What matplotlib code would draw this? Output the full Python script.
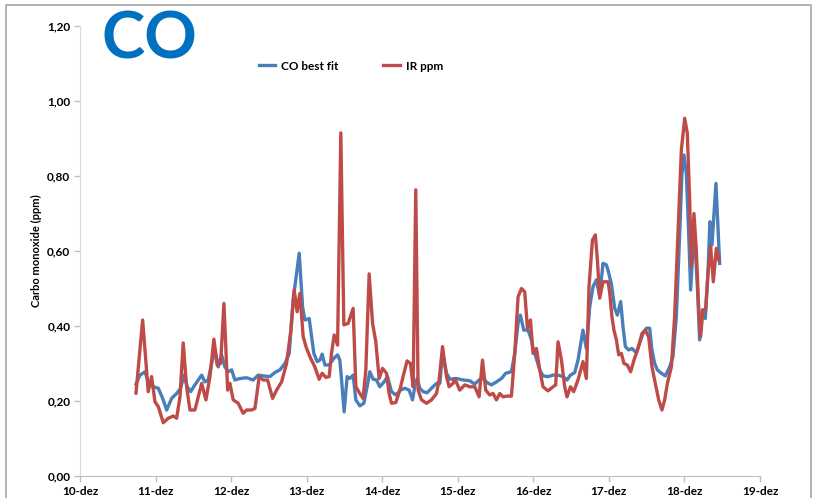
import numpy as np
import matplotlib
matplotlib.use("Agg")
import matplotlib.pyplot as plt
from matplotlib.lines import Line2D

# time axis: day of December (fractional)
fit_days = [10.741, 10.794, 10.860, 10.903, 10.970, 11.036, 11.094, 11.147, 11.213, 11.279,
            11.332, 11.376, 11.419, 11.464, 11.521, 11.565, 11.610, 11.653, 11.697, 11.742,
            11.786, 11.829, 11.874, 11.918, 11.962, 12.007, 12.050, 12.116, 12.205, 12.292,
            12.358, 12.425, 12.513, 12.579, 12.646, 12.712, 12.769, 12.821, 12.901, 12.946,
            12.976, 13.033, 13.065, 13.095, 13.139, 13.175, 13.205, 13.241, 13.298, 13.360,
            13.409, 13.439, 13.462, 13.496, 13.536, 13.571, 13.615, 13.651, 13.704, 13.757,
            13.800, 13.836, 13.880, 13.925, 13.968, 14.025, 14.070, 14.123, 14.180, 14.242,
            14.299, 14.356, 14.401, 14.431, 14.462, 14.497, 14.541, 14.594, 14.652, 14.718,
            14.762, 14.798, 14.851, 14.894, 14.983, 15.070, 15.159, 15.225, 15.282, 15.335,
            15.388, 15.446, 15.512, 15.578, 15.635, 15.710, 15.754, 15.798, 15.829, 15.873,
            15.930, 15.975, 15.996, 16.032, 16.085, 16.128, 16.194, 16.261, 16.327, 16.393,
            16.446, 16.491, 16.548, 16.591, 16.657, 16.702, 16.746, 16.790, 16.835, 16.878,
            16.922, 16.967, 16.988, 17.033, 17.077, 17.112, 17.156, 17.187, 17.218, 17.262,
            17.306, 17.364, 17.407, 17.451, 17.496, 17.540, 17.570, 17.606, 17.641, 17.694,
            17.747, 17.804, 17.848, 17.893, 17.937, 17.967, 17.993, 18.025, 18.056, 18.082,
            18.112, 18.135, 18.171, 18.201, 18.237, 18.276, 18.311, 18.337, 18.364, 18.417,
            18.466]
co_best_fit = [0.245, 0.269, 0.278, 0.251, 0.238, 0.234, 0.207, 0.176, 0.207, 0.220,
               0.234, 0.269, 0.238, 0.225, 0.243, 0.256, 0.269, 0.251, 0.256, 0.300,
               0.336, 0.291, 0.323, 0.291, 0.278, 0.283, 0.256, 0.260, 0.262, 0.256,
               0.269, 0.267, 0.265, 0.276, 0.283, 0.300, 0.327, 0.470, 0.594, 0.451,
               0.416, 0.420, 0.371, 0.327, 0.305, 0.309, 0.325, 0.296, 0.296, 0.314,
               0.323, 0.309, 0.256, 0.171, 0.265, 0.260, 0.269, 0.203, 0.187, 0.194,
               0.238, 0.278, 0.258, 0.256, 0.238, 0.251, 0.265, 0.225, 0.216, 0.229,
               0.234, 0.229, 0.203, 0.238, 0.260, 0.234, 0.225, 0.222, 0.234, 0.247,
               0.247, 0.327, 0.274, 0.258, 0.260, 0.256, 0.254, 0.245, 0.256, 0.260,
               0.249, 0.243, 0.251, 0.260, 0.274, 0.278, 0.327, 0.407, 0.429, 0.389,
               0.389, 0.363, 0.340, 0.318, 0.283, 0.267, 0.265, 0.269, 0.269, 0.265,
               0.256, 0.269, 0.276, 0.309, 0.389, 0.340, 0.451, 0.505, 0.523, 0.478,
               0.567, 0.563, 0.549, 0.512, 0.447, 0.429, 0.465, 0.398, 0.345, 0.336,
               0.340, 0.329, 0.354, 0.380, 0.394, 0.394, 0.336, 0.300, 0.283, 0.274,
               0.267, 0.291, 0.318, 0.425, 0.647, 0.807, 0.856, 0.807, 0.647, 0.496,
               0.603, 0.638, 0.505, 0.363, 0.443, 0.420, 0.540, 0.678, 0.616, 0.780,
               0.567]

ir_days = [10.741, 10.829, 10.903, 10.948, 10.992, 11.036, 11.102, 11.168, 11.234, 11.279,
           11.323, 11.366, 11.411, 11.455, 11.521, 11.565, 11.610, 11.667, 11.720, 11.772,
           11.816, 11.861, 11.905, 11.954, 11.984, 12.028, 12.094, 12.160, 12.205, 12.271,
           12.315, 12.372, 12.425, 12.483, 12.549, 12.602, 12.668, 12.734, 12.791, 12.835,
           12.874, 12.910, 12.954, 12.999, 13.052, 13.108, 13.165, 13.205, 13.254, 13.298,
           13.329, 13.364, 13.409, 13.452, 13.492, 13.549, 13.615, 13.651, 13.704, 13.747,
           13.783, 13.827, 13.872, 13.915, 13.959, 14.004, 14.057, 14.091, 14.123, 14.180,
           14.233, 14.276, 14.329, 14.374, 14.409, 14.444, 14.475, 14.520, 14.586, 14.652,
           14.718, 14.753, 14.798, 14.851, 14.885, 14.938, 14.960, 15.026, 15.093, 15.159,
           15.225, 15.282, 15.327, 15.370, 15.423, 15.467, 15.512, 15.556, 15.599, 15.644,
           15.710, 15.754, 15.798, 15.843, 15.886, 15.922, 15.962, 15.996, 16.041, 16.085,
           16.128, 16.194, 16.261, 16.296, 16.327, 16.372, 16.415, 16.446, 16.491, 16.534,
           16.591, 16.657, 16.702, 16.737, 16.782, 16.821, 16.848, 16.878, 16.922, 16.988,
           17.010, 17.040, 17.067, 17.099, 17.130, 17.165, 17.200, 17.244, 17.288, 17.332,
           17.385, 17.438, 17.483, 17.526, 17.570, 17.615, 17.659, 17.702, 17.738, 17.774,
           17.827, 17.870, 17.914, 17.959, 18.003, 18.038, 18.069, 18.091, 18.126, 18.157,
           18.188, 18.214, 18.245, 18.280, 18.311, 18.347, 18.382, 18.422, 18.456]
ir_ppm = [0.221, 0.416, 0.225, 0.265, 0.198, 0.185, 0.142, 0.154, 0.160, 0.154,
          0.211, 0.355, 0.238, 0.176, 0.176, 0.211, 0.247, 0.203, 0.265, 0.365,
          0.296, 0.300, 0.460, 0.229, 0.247, 0.203, 0.194, 0.167, 0.176, 0.176,
          0.180, 0.265, 0.256, 0.256, 0.207, 0.229, 0.251, 0.300, 0.389, 0.496,
          0.438, 0.487, 0.371, 0.340, 0.314, 0.291, 0.258, 0.274, 0.263, 0.265,
          0.327, 0.376, 0.349, 0.915, 0.403, 0.407, 0.447, 0.238, 0.220, 0.207,
          0.283, 0.539, 0.407, 0.358, 0.260, 0.287, 0.274, 0.220, 0.194, 0.196,
          0.229, 0.265, 0.307, 0.300, 0.238, 0.763, 0.229, 0.203, 0.194, 0.203,
          0.220, 0.256, 0.345, 0.265, 0.238, 0.247, 0.260, 0.229, 0.243, 0.238,
          0.238, 0.211, 0.309, 0.229, 0.216, 0.220, 0.203, 0.220, 0.211, 0.213,
          0.213, 0.327, 0.478, 0.500, 0.491, 0.394, 0.416, 0.327, 0.340, 0.283,
          0.238, 0.227, 0.238, 0.243, 0.358, 0.309, 0.238, 0.211, 0.238, 0.225,
          0.256, 0.305, 0.260, 0.505, 0.629, 0.643, 0.576, 0.474, 0.518, 0.518,
          0.490, 0.425, 0.389, 0.363, 0.323, 0.327, 0.300, 0.296, 0.278, 0.309,
          0.340, 0.380, 0.389, 0.371, 0.291, 0.247, 0.203, 0.176, 0.203, 0.247,
          0.291, 0.425, 0.647, 0.869, 0.954, 0.914, 0.736, 0.558, 0.700, 0.603,
          0.451, 0.371, 0.443, 0.443, 0.540, 0.611, 0.518, 0.607, 0.576]

day_ticks = list(range(10, 20))
day_labels = [f"{d}-dez" for d in day_ticks]
y_ticks = [0.0, 0.2, 0.4, 0.6, 0.8, 1.0, 1.2]
y_labels = [f"{v:.2f}".replace(".", ",") for v in y_ticks]

blue = "#4A7EBB"
red = "#BE4B48"
plt.rcParams["font.family"] = ["Lato", "DejaVu Sans"]

fig = plt.figure(figsize=(8.16, 4.98), dpi=100)
ax = fig.add_axes([80 / 816, 22 / 498, 680 / 816, 450 / 498])

ax.plot(fit_days, co_best_fit, color=blue, lw=2.4, solid_joinstyle="round",
        label="CO best fit")
ax.plot(ir_days, ir_ppm, color=red, lw=2.4, solid_joinstyle="round", label="IR ppm")

ax.set_xlim(10, 19)
ax.set_ylim(0, 1.2)
ax.set_xticks(day_ticks)
ax.set_xticklabels(day_labels, fontsize=8.5, fontweight="bold")
ax.set_yticks(y_ticks)
ax.set_yticklabels(y_labels, fontsize=8.5, fontweight="bold")
ax.tick_params(axis="both", length=4, width=1, color="#BFBFBF", pad=3)
ax.set_ylabel("Carbo monoxide (ppm)", fontsize=8, fontweight="bold", labelpad=4)

for side in ("top", "right"):
    ax.spines[side].set_visible(False)
ax.spines["left"].set_color("#D9D9D9")
ax.spines["bottom"].set_color("#BFBFBF")

fig.legend(loc="center left", bbox_to_anchor=(248 / 816, 1 - 66 / 498), ncol=2,
           frameon=False, handlelength=1.4, handletextpad=0.5, columnspacing=3.8,
           prop={"size": 8.5, "weight": "bold"})

fig.text(101 / 816, 1 - 40 / 498, "CO", color="#0070C0", fontsize=47,
         fontweight="bold", va="center", ha="left")

# outer frame of the slide
fig.add_artist(Line2D([6 / 816, 6 / 816, 811 / 816, 811 / 816],
                      [0, 1 - 5 / 498, 1 - 5 / 498, 0],
                      transform=fig.transFigure, color="#A6A6A6", lw=1.2))

fig.savefig("out.png", dpi=100)
